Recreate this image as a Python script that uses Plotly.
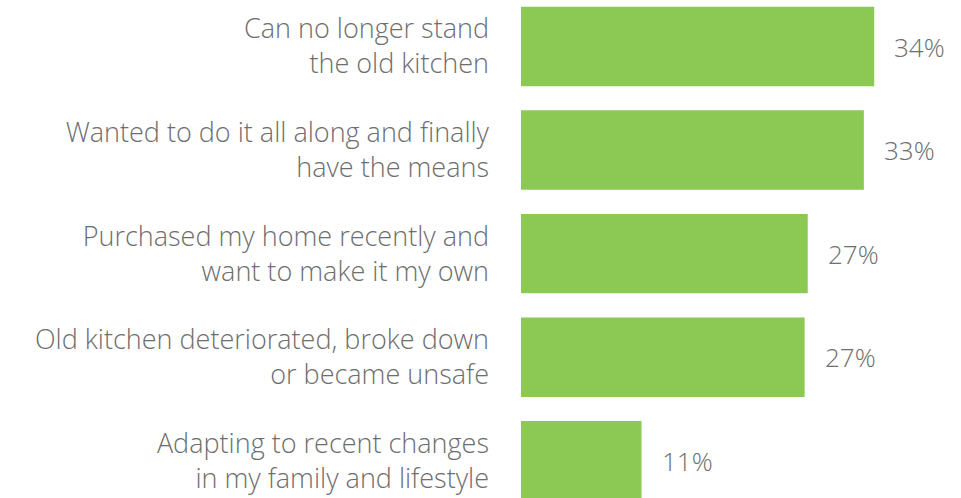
import plotly.graph_objects as go

reasons = [
    'Can no longer stand<br>the old kitchen',
    'Wanted to do it all along and finally<br>have the means',
    'Purchased my home recently and<br>want to make it my own',
    'Old kitchen deteriorated, broke down<br>or became unsafe',
    'Adapting to recent changes<br>in my family and lifestyle',
]
shares = [34.0, 33.0, 27.6, 27.3, 11.6]
share_labels = ['34%', '33%', '27%', '27%', '11%']

GREEN = '#8cc954'
GREY = '#6e6e6e'
FONT = 'Open Sans'

fig = go.Figure(go.Bar(
    x=shares,
    y=reasons,
    orientation='h',
    marker=dict(color=GREEN, line=dict(width=0)),
    width=0.767,
    hoverinfo='skip',
))

for reason, share, label in zip(reasons, shares, share_labels):
    fig.add_annotation(
        x=share, y=reason, text=label,
        xanchor='left', yanchor='middle', xshift=18, showarrow=False,
        font=dict(family=FONT, size=26, color=GREY, weight=300),
    )

fig.update_layout(
    width=961, height=498,
    margin=dict(l=521, r=0, t=0, b=0),
    paper_bgcolor='white', plot_bgcolor='white',
    showlegend=False,
    xaxis=dict(range=[0, 42.35], visible=False, fixedrange=True),
    yaxis=dict(
        range=[4.36, -0.449],
        showgrid=False, zeroline=False, showline=False,
        ticks='', ticklabelstandoff=31,
        tickfont=dict(family=FONT, size=27, color=GREY, weight=300),
        fixedrange=True,
    ),
)

# drop the browser's default 8px body margin so the figure sits at the corner
fig.write_html('out.html', config={'displayModeBar': False},
               post_script="document.body.style.margin='0';")
